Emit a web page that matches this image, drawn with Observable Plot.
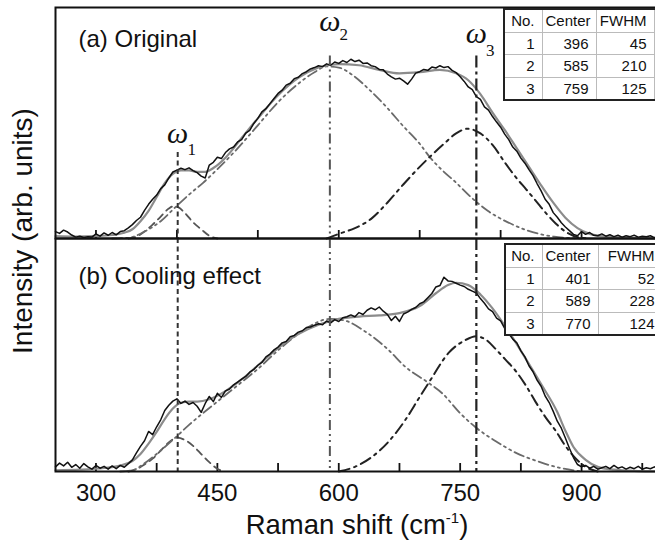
<!DOCTYPE html>
<html>
<head>
<meta charset="utf-8">
<script src="https://cdn.jsdelivr.net/npm/d3@7"></script>
<script src="https://cdn.jsdelivr.net/npm/@observablehq/plot@0.6"></script>
<style>
html,body{margin:0;padding:0;background:#fff;overflow:hidden;}
body{width:655px;height:544px;}
#wrap{position:relative;width:662px;height:544px;font-family:"Liberation Sans",Arial,Helvetica,sans-serif;color:#111;}
#wrap svg{display:block;overflow:visible;}
#top,#bottom{position:absolute;left:0;}
#top{top:0;}
#bottom{top:238px;}
.ylab{position:absolute;left:23px;top:231px;transform:translate(-50%,-50%) rotate(-90deg);font-size:28px;line-height:28px;white-space:nowrap;}
.xlab{position:absolute;left:357px;top:511px;transform:translateX(-50%);font-size:27.5px;line-height:27px;white-space:nowrap;}
.xlab sup{font-size:15px;line-height:0;vertical-align:11px;}
table.fit{position:absolute;border-collapse:collapse;background:#fff;font-size:15px;table-layout:fixed;border:2px solid #222;border-right:1.5px solid #bbb;}
table.fit td{border:1.5px solid #bbb;height:21.5px;line-height:21px;padding:0 7px 0 3px;text-align:right;overflow:hidden;white-space:nowrap;}
table.fit tr:first-child td{text-align:left;padding-left:3px;}
table.fit tr:first-child td{border-top:2px solid #222;}
table.fit tr:last-child td{border-bottom:2px solid #222;}
table.fit td:first-child{border-left:2px solid #222;}
</style>
</head>
<body>
<div id="wrap">
  <div id="top"></div>
  <div id="bottom"></div>
  <div class="ylab">Intensity (arb. units)</div>
  <div class="xlab">Raman shift (cm<sup>-1</sup>)</div>
</div>
<script>
// ---------- data ----------
const xStart = 250, xStep = 5;       // spectrum sampling grid (cm^-1)
const xDomain = [250, 1000];
const xTicksA = [300, 400, 500, 600, 700, 800, 900];
const xTicksB = [300, 375, 450, 525, 600, 675, 750, 825, 900, 975];
const xTickLabels = [300, 450, 600, 750, 900];

const panelTitles = ["(a) Original", "(b) Cooling effect"];

// measured spectrum, panel (a)
const rawA = [
  .030,.022,.036,.028,.015,.006,.010,.004,.008,.006,
  .020,.010,.024,.014,.026,.016,.030,.034,.046,.060,
  .078,.092,.122,.148,.170,.188,.216,.232,.262,.288,
  .296,.304,.298,.306,.294,.285,.270,.262,.318,.330,
  .352,.346,.372,.388,.396,.418,.428,.456,.468,.498,
  .520,.548,.562,.584,.606,.628,.642,.664,.672,.692,
  .698,.714,.722,.734,.740,.748,.744,.756,.750,.764,
  .758,.770,.762,.776,.766,.772,.758,.760,.748,.744,
  .732,.730,.712,.700,.690,.694,.682,.668,.690,.716,
  .722,.732,.728,.742,.738,.748,.740,.744,.728,.718,
  .700,.680,.656,.644,.614,.602,.570,.556,.528,.504,
  .482,.452,.428,.396,.378,.348,.326,.298,.272,.238,
  .206,.170,.148,.112,.092,.068,.050,.034,.018,.012,
  .030,.018,.026,.014,.012,.020,.010,.016,.008,.014,
  .006,.012,.008,.014,.006,.010,.008,.012,.004,.008,
  .006
];
// measured spectrum, panel (b)
const rawB = [
  .020,.036,.024,.040,.018,.030,.014,.034,.020,.010,
  .026,.014,.022,.010,.024,.012,.026,.018,.034,.050,
  .080,.108,.132,.172,.158,.192,.222,.262,.284,.302,
  .312,.292,.302,.288,.296,.280,.254,.292,.322,.300,
  .336,.318,.346,.354,.372,.384,.396,.408,.426,.438,
  .456,.468,.492,.504,.522,.534,.552,.558,.578,.584,
  .598,.604,.618,.620,.628,.634,.630,.646,.638,.652,
  .644,.660,.664,.672,.664,.682,.674,.692,.702,.694,
  .706,.688,.674,.648,.666,.644,.676,.684,.696,.704,
  .720,.728,.746,.764,.792,.798,.834,.818,.816,.808,
  .800,.794,.782,.774,.766,.742,.722,.698,.686,.658,
  .646,.614,.592,.568,.552,.518,.492,.454,.428,.392,
  .366,.324,.296,.258,.216,.186,.144,.100,.060,.030,
  .020,.026,.014,.022,.010,.016,.022,.012,.026,.014,
  .020,.010,.018,.012,.022,.010,.016,.012,.020,.010,
  .014
];

// fitted envelope (gray)
const fitAx = [250,275,300,320,335,345,355,365,375,385,395,405,415,425,435,445,460,480,500,525,550,575,600,625,650,675,700,725,745,760,775,790,805,820,835,850,865,880,895,910,930,960,1000];
const fitAy = [.010,.008,.010,.015,.025,.040,.075,.120,.180,.240,.280,.295,.295,.288,.288,.305,.350,.435,.520,.620,.695,.740,.755,.750,.730,.715,.720,.730,.715,.685,.625,.545,.470,.390,.310,.230,.155,.090,.045,.020,.008,.003,0];
const fitBx = [250,280,310,330,345,355,365,375,385,395,405,415,425,440,460,480,500,525,550,575,600,625,650,675,700,720,735,745,760,775,790,810,830,850,870,880,890,905,920,940,970,1000];
const fitBy = [.005,.008,.015,.025,.045,.075,.120,.170,.225,.270,.295,.300,.300,.310,.345,.395,.455,.530,.590,.630,.655,.665,.670,.680,.710,.765,.800,.810,.800,.760,.700,.600,.490,.375,.255,.175,.105,.050,.020,.008,.002,0];

// fitted components, panel (a)
const c1Ax = [340,350,360,370,380,390,396,402,410,420,430,440,450];
const c1Ay = [0,.008,.030,.060,.095,.130,.140,.135,.110,.070,.040,.012,0];
const c2Ax = [320,340,360,380,398,415,432,450,475,500,525,550,570,585,600,618,639,660,680,700,713,728,744,763,784,809,833,866,900];
const c2Ay = [0,.003,.030,.075,.135,.190,.240,.300,.390,.490,.590,.670,.720,.745,.740,.705,.640,.565,.485,.410,.350,.295,.245,.180,.120,.070,.035,.008,0];
const c3Ax = [585,600,620,640,660,680,700,713,730,745,759,775,790,806,820,831,843,856,868,880,895,910];
const c3Ay = [0,.020,.045,.085,.155,.235,.310,.355,.410,.455,.475,.455,.405,.325,.260,.215,.165,.110,.065,.030,.006,0];

// fitted components, panel (b)
const c1Bx = [340,350,360,370,380,390,401,410,420,430,440,450,458];
const c1By = [0,.010,.030,.055,.090,.125,.145,.135,.110,.075,.040,.012,0];
const c2Bx = [330,345,360,380,398,415,432,450,475,500,525,550,570,589,605,633,662,682,711,728,750,769,794,819,843,868,900];
const c2By = [0,.005,.035,.090,.145,.200,.250,.300,.370,.440,.520,.590,.635,.655,.650,.600,.520,.450,.380,.335,.250,.190,.130,.080,.047,.020,0];
const c3Bx = [600,620,640,662,682,700,711,736,757,770,782,794,806,819,831,843,856,868,880,893,905,920];
const c3By = [0,.020,.060,.130,.220,.320,.380,.510,.565,.580,.565,.525,.480,.430,.370,.300,.230,.175,.110,.055,.020,0];

// peak markers
const omegaX = [401, 589, 770];
const omegaTopA = [0.372, 0.79, 0.79];
const omegaLabelY = [0.457, 0.942, 0.89];
const omegaSubY = [0.385, 0.885, 0.815];
const omegaSub = ["1", "2", "3"];

// tables
const tableHeader = ["No.", "Center", "FWHM"];
const peakNo = [1, 2, 3];
const centerA = [396, 585, 759];
const fwhmA = [45, 210, 125];
const centerB = [401, 589, 770];
const fwhmB = [52, 228, 124];

// ---------- helpers ----------
const pts = (xa, ya) => xa.map((x, i) => ({x, y: ya[i]}));
const grid = (ya) => ya.map((y, i) => ({x: xStart + xStep * i, y}));

const omegaStyles = [
  {stroke: "#333", strokeDasharray: "5,3.5", strokeWidth: 2},
  {stroke: "#555", strokeDasharray: "10,4,2,4,2,4", strokeWidth: 2},
  {stroke: "#222", strokeDasharray: "12,4,3,4", strokeWidth: 2.2}
];
const compStyles = [
  {stroke: "#555", strokeDasharray: "7,5", strokeWidth: 1.8},
  {stroke: "#6a6a6a", strokeDasharray: "10,4,2,4,2,4", strokeWidth: 1.8},
  {stroke: "#222", strokeDasharray: "11,5,2.5,5", strokeWidth: 2}
];
const SANS = "Liberation Sans, Arial, Helvetica, sans-serif";
const SERIF = "Liberation Serif, DejaVu Serif, Times New Roman, serif";

function curveMarks(comps, fit, raw) {
  return [
    ...comps.map((c, i) => Plot.line(c, {x: "x", y: "y", curve: "monotone-x", ...compStyles[i]})),
    Plot.line(fit, {x: "x", y: "y", curve: "monotone-x", stroke: "#8c8c8c", strokeWidth: 2.2}),
    Plot.line(raw, {x: "x", y: "y", stroke: "#111", strokeWidth: 1.5})
  ];
}
// inward-pointing ticks: full-height rules inset from the top, leaving 8px at the bottom
const inwardTicks = (ticks, frameH) => Plot.ruleX(ticks, {x: d => d, insetTop: frameH - 8, stroke: "#111", strokeWidth: 1.8});

// ---------- panel (a) ----------
const plotA = Plot.plot({
  width: 662, height: 238,
  marginLeft: 55, marginRight: 0, marginTop: 7, marginBottom: 0,
  x: {domain: xDomain, axis: null},
  y: {domain: [0, 1], axis: null},
  style: {fontFamily: SANS, background: "transparent", overflow: "visible"},
  marks: [
    inwardTicks(xTicksA, 231),
    ...curveMarks([pts(c1Ax, c1Ay), pts(c2Ax, c2Ay), pts(c3Ax, c3Ay)], pts(fitAx, fitAy), grid(rawA)),
    ...omegaX.map((x, i) => Plot.ruleX([{x, top: omegaTopA[i]}], {x: "x", y1: "top", y2: () => 0, ...omegaStyles[i]})),
    Plot.text(omegaX.map((x, i) => ({x, y: omegaLabelY[i]})), {x: "x", y: "y", text: () => "ω", fontFamily: SERIF, fontStyle: "italic", fontSize: 30, fill: "#111", textAnchor: "middle"}),
    Plot.text(omegaX.map((x, i) => ({x, y: omegaSubY[i], t: omegaSub[i]})), {x: "x", y: "y", text: "t", dx: 14, fontFamily: SERIF, fontSize: 17, fill: "#111", textAnchor: "middle"}),
    Plot.text([panelTitles[0]], {frameAnchor: "top-left", text: d => d, dx: 23, dy: 32, textAnchor: "start", lineAnchor: "middle", fontSize: 24, fill: "#111"}),
    Plot.frame({stroke: "#111", strokeWidth: 2})
  ]
});

// ---------- panel (b) ----------
const plotB = Plot.plot({
  width: 662, height: 306,
  marginLeft: 55, marginRight: 0, marginTop: 0, marginBottom: 73,
  x: {domain: xDomain},
  y: {domain: [0, 1], axis: null},
  style: {fontFamily: SANS, background: "transparent", overflow: "visible"},
  marks: [
    inwardTicks(xTicksB, 233),
    Plot.axisX({ticks: xTickLabels, tickSize: 0, tickPadding: 12, label: null, fontSize: 24, fill: "#111"}),
    ...curveMarks([pts(c1Bx, c1By), pts(c2Bx, c2By), pts(c3Bx, c3By)], pts(fitBx, fitBy), grid(rawB)),
    ...omegaX.map((x, i) => Plot.ruleX([x], {x: d => d, ...omegaStyles[i]})),
    Plot.text([panelTitles[1]], {frameAnchor: "top-left", text: d => d, dx: 23, dy: 38, textAnchor: "start", lineAnchor: "middle", fontSize: 24, fill: "#111"}),
    Plot.frame({stroke: "#111", strokeWidth: 2})
  ]
});

document.getElementById("top").append(plotA);
document.getElementById("bottom").append(plotB);

// ---------- inset tables ----------
function makeTable(left, top, widths, centers, fwhms) {
  const t = document.createElement("table");
  t.className = "fit";
  t.style.left = left + "px";
  t.style.top = top + "px";
  t.style.width = widths.reduce((a, b) => a + b, 0) + "px";
  const cg = document.createElement("colgroup");
  widths.forEach(w => { const c = document.createElement("col"); c.style.width = w + "px"; cg.append(c); });
  t.append(cg);
  const rows = [tableHeader, ...peakNo.map((n, i) => [n, centers[i], fwhms[i]])];
  rows.forEach(r => {
    const tr = document.createElement("tr");
    r.forEach(v => { const td = document.createElement("td"); td.textContent = v; tr.append(td); });
    t.append(tr);
  });
  document.getElementById("wrap").append(t);
}
makeTable(503, 8, [38, 54, 58], centerA, fwhmA);
makeTable(504, 243, [37, 56, 64], centerB, fwhmB);
</script>
</body>
</html>
